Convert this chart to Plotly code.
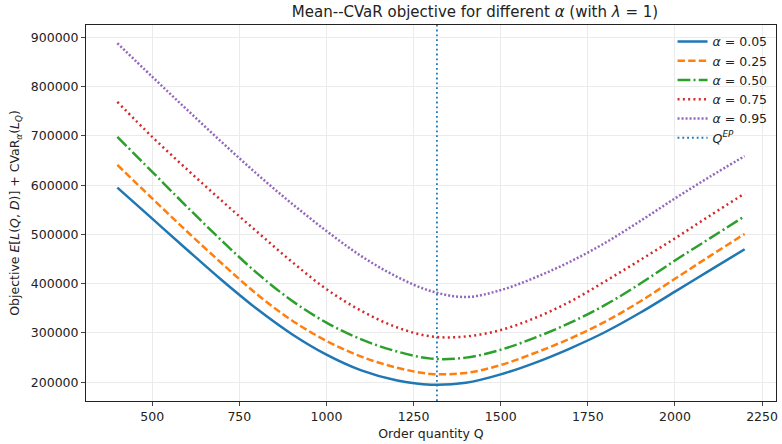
import plotly.graph_objects as go

# Order quantities
Q = [400, 500, 600, 700, 800, 900, 1000, 1100, 1200, 1300, 1400,
     1500, 1600, 1700, 1800, 1900, 2000, 2100, 2200]

# Objective values
obj_005 = [595000, 532000, 469000, 407000, 349000, 298000, 256000, 224000, 204000, 195000, 199000,
           216000, 240000, 269000, 302000, 341000, 384000, 427000, 470000]
obj_025 = [641000, 573000, 506000, 441000, 379000, 326000, 284000, 252000, 230000, 217000, 219000,
           235000, 260000, 289000, 323000, 364000, 410000, 456000, 501000]
obj_050 = [698000, 627000, 556000, 487000, 422000, 366000, 321000, 287000, 263000, 248000, 250000,
           266000, 291000, 321000, 357000, 400000, 447000, 492000, 537000]
obj_075 = [769000, 698000, 632000, 568000, 506000, 445000, 389000, 345000, 312000, 293000, 293000,
           306000, 331000, 364000, 405000, 448000, 492000, 538000, 583000]
obj_095 = [888000, 820000, 753000, 687000, 623000, 563000, 507000, 456000, 415000, 385000, 373000,
           387000, 413000, 445000, 483000, 527000, 573000, 617000, 659000]

series_names = ["<i>α</i> = 0.05", "<i>α</i> = 0.25", "<i>α</i> = 0.50", "<i>α</i> = 0.75", "<i>α</i> = 0.95"]
series_vals = [obj_005, obj_025, obj_050, obj_075, obj_095]

Q_EP = 1317
x_ticks = [500, 750, 1000, 1250, 1500, 1750, 2000, 2250]
y_ticks = [200000, 300000, 400000, 500000, 600000, 700000, 800000, 900000]
x_range = [310, 2290]
y_range = [162000, 925000]

colors = ["#1f77b4", "#ff7f0e", "#2ca02c", "#d62728", "#9467bd"]
dashes = ["solid", "7.4px,3.2px", "12.8px,3.2px,2px,3.2px", "2px,3.3px", "2px,2px"]

fig = go.Figure()
for name, vals, c, d in zip(series_names, series_vals, colors, dashes):
    fig.add_trace(go.Scatter(x=Q, y=vals, mode="lines", name=name,
                             line=dict(color=c, width=2.5, dash=d, shape="spline", smoothing=1.0)))

fig.add_trace(go.Scatter(x=[Q_EP, Q_EP], y=y_range, mode="lines",
                         name="<i>Q</i><sup><i>EP</i></sup>",
                         line=dict(color="#1f77b4", width=1.8, dash="1.8px,3px")))

font_family = "DejaVu Sans"
fig.update_layout(
    width=782, height=444,
    margin=dict(l=86, r=4, t=25, b=43),
    paper_bgcolor="white", plot_bgcolor="white",
    font=dict(family=font_family, size=12.5, color="#222"),
    title=dict(text="Mean--CVaR objective for different <i>α</i> (with <i>λ</i> = 1)",
               x=(86 + 389) / 782, xanchor="center", y=0.985, yanchor="top",
               font=dict(size=15, color="#222")),
    legend=dict(x=0.995, xanchor="right", y=0.995, yanchor="top",
                bgcolor="rgba(0,0,0,0)", borderwidth=0,
                font=dict(size=12.5), tracegroupgap=0),
    showlegend=True,
)
fig.update_xaxes(range=x_range, tickvals=x_ticks, ticks="outside", ticklen=4,
                 showline=True, linecolor="#222", linewidth=1, mirror=True,
                 showgrid=True, gridcolor="#ebebeb", gridwidth=1, zeroline=False,
                 title=dict(text="Order quantity Q", standoff=6, font=dict(size=12.5)))
fig.update_yaxes(range=y_range, tickvals=y_ticks, tickformat="d", ticks="outside", ticklen=4,
                 showline=True, linecolor="#222", linewidth=1, mirror=True,
                 showgrid=True, gridcolor="#ebebeb", gridwidth=1, zeroline=False,
                 title=dict(text="Objective <i>E</i>[<i>L</i>(<i>Q</i>, <i>D</i>)] + CVaR<sub><i>α</i></sub>(<i>L</i><sub><i>Q</i></sub>)",
                            standoff=8, font=dict(size=12.5)))

fig.write_html("out.html")
